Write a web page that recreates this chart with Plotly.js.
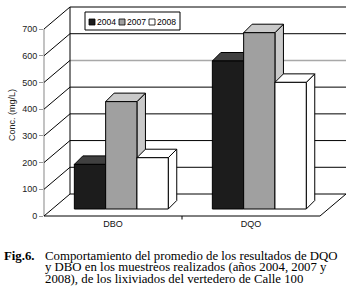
<!DOCTYPE html>
<html><head><meta charset="utf-8">
<script src="https://cdn.plot.ly/plotly-3.0.1.min.js"></script>
<style>html,body{margin:0;padding:0;background:#fff}#chart{width:353px;height:293px}</style>
</head><body><div id="chart"></div>
<script>
// ---- data ----
const categories = ['DBO', 'DQO'];
const seriesNames = ['2004', '2007', '2008'];
const values2004 = [167, 554];
const values2007 = [402, 660];
const values2008 = [192, 474];
const yTickValues = [0, 100, 200, 300, 400, 500, 600, 700];
const yTitle = 'Conc. (mg/L)';
const captionLabel = 'Fig.6.';
const captionLines = [
  'Comportamiento del promedio de los resultados de DQO',
  'y DBO en los muestreos realizados (años 2004, 2007 y',
  '2008), de los lixiviados del vertedero de Calle 100'
];

// ---- styles / geometry ----
const seriesValues = [values2004, values2007, values2008];
const frontColors = ['#1c1c1c', '#a0a0a0', '#ffffff'];
const topColors = ['#404040', '#c9c9c9', '#ffffff'];
const sideColors = ['#303030', '#c9c9c9', '#ffffff'];
const W = 353, H = 293;
const M = {l: 44, r: 6, t: 6, b: 76};
const PXU = 138;            // px per category unit
const PYU = 187 / 700;      // px per value unit
const WDX = 26 / PXU, WDY = 22 / PYU;       // wall depth
const BDX0 = 8.3 / PXU, BDY0 = 7 / PYU;     // bar plane offset
const BDX = 8.5 / PXU, BDY = 8.5 / PYU;     // bar depth
const BW = 31.3 / PXU;                      // bar width
const xmin = -0.5, xmax = categories.length - 0.5 + WDX + 1 / PXU;
const ymin = -1 / PYU, ymax = yTickValues[yTickValues.length - 1] + WDY + 1 / PYU;
const plotW = W - M.l - M.r, plotH = H - M.t - M.b;
const PX = p => (p - M.l) / plotW;
const PY = p => (H - M.b - p) / plotH;
const vmax = yTickValues[yTickValues.length - 1];
const x0 = -0.5, x1 = categories.length - 0.5;

const shapes = [];
const line = (xa, ya, xb, yb, color, width, extra) => Object.assign({
  type: 'line', xref: 'x', yref: 'y', x0: xa, y0: ya, x1: xb, y1: yb,
  line: {color: color, width: width}, layer: 'below'}, extra || {});

yTickValues.forEach(v => {
  shapes.push(line(x0, v, x0 + WDX, v + WDY, '#000', 1));
  const gray = v === 500;
  shapes.push(line(x0 + WDX, v + WDY, x1 + WDX, v + WDY, gray ? '#a8a8a8' : '#000', gray ? 1.6 : 1));
});
shapes.push(line(x0 + WDX, WDY, x0 + WDX, vmax + WDY, '#000', 1));
shapes.push(line(x0, 0, x1, 0, '#000', 1));
shapes.push(line(x1, 0, x1 + WDX, WDY, '#000', 1));
shapes.push({type: 'line', xref: 'paper', yref: 'y', x0: 0, x1: 0, y0: 0, y1: vmax,
  line: {color: '#9a9a9a', width: 1.2}, layer: 'below'});
for (let i = 1; i < categories.length; i++) {
  shapes.push({type: 'line', xref: 'x', yref: 'paper', x0: i - 0.5, x1: i - 0.5,
    y0: PY(216), y1: PY(219.5), line: {color: '#000', width: 1}});
}

// ---- bars ----
const traces = [];
const poly = (pts, fill) => ({
  type: 'scatter', mode: 'lines', fill: 'toself', fillcolor: fill,
  x: pts.map(p => p[0]).concat([pts[0][0]]),
  y: pts.map(p => p[1]).concat([pts[0][1]]),
  line: {color: '#000', width: 1}, hoverinfo: 'skip', showlegend: false
});
categories.forEach((c, i) => {
  seriesValues.forEach((vals, j) => {
    const L = i + BDX0 - 1.5 * BW + j * BW, R = L + BW;
    const B = BDY0, T = BDY0 + vals[i];
    traces.push(poly([[R, B], [R + BDX, B + BDY], [R + BDX, T + BDY], [R, T]], sideColors[j]));
    traces.push(poly([[L, T], [R, T], [R + BDX, T + BDY], [L + BDX, T + BDY]], topColors[j]));
    traces.push(poly([[L, B], [R, B], [R, T], [L, T]], frontColors[j]));
  });
});

// ---- legend (box + squares + names) ----
const font = "'Liberation Sans', Arial, sans-serif";
const annotations = [];
shapes.push({type: 'rect', xref: 'paper', yref: 'paper', x0: PX(85), x1: PX(180),
  y0: PY(12), y1: PY(30), line: {color: '#000', width: 1}, fillcolor: '#fff', layer: 'above'});
seriesNames.forEach((n, k) => {
  const sx = 89 + k * 30;
  shapes.push({type: 'rect', xref: 'paper', yref: 'paper', x0: PX(sx), x1: PX(sx + 6),
    y0: PY(19), y1: PY(25), line: {color: '#000', width: 0.8}, fillcolor: frontColors[k], layer: 'above'});
  annotations.push({xref: 'paper', yref: 'paper', x: PX(sx + 7), y: PY(22.3), xanchor: 'left', yanchor: 'middle',
    text: n, showarrow: false, borderpad: 0, font: {family: font, size: 8.6, color: '#000'}});
});

annotations.push({xref: 'paper', yref: 'paper', x: PX(12), y: PY(115), textangle: -90,
  xanchor: 'center', yanchor: 'middle', text: yTitle, showarrow: false,
  font: {family: font, size: 9, color: '#222'}});

const serif = "'Liberation Serif', 'Times New Roman', serif";
annotations.push({xref: 'paper', yref: 'paper', x: PX(3), y: PY(256), xanchor: 'left', yanchor: 'middle',
  text: '<b>' + captionLabel + '</b>', showarrow: false, borderpad: 0,
  font: {family: serif, size: 12.8, color: '#000'}});
captionLines.forEach((t, k) => {
  annotations.push({xref: 'paper', yref: 'paper', x: PX(44), y: PY(256 + k * 11.3), xanchor: 'left', yanchor: 'middle',
    text: t, showarrow: false, borderpad: 0, font: {family: serif, size: 12.8, color: '#000'}});
});

const layout = {
  width: W, height: H, margin: M, showlegend: false,
  paper_bgcolor: '#fff', plot_bgcolor: '#fff',
  xaxis: {range: [xmin, xmax], showgrid: false, zeroline: false, showline: false,
    tickmode: 'array', tickvals: categories.map((c, i) => i), ticktext: categories,
    ticks: '', tickfont: {family: font, size: 9, color: '#111'}, fixedrange: true},
  yaxis: {range: [ymin, ymax], showgrid: false, zeroline: false, showline: false,
    tickmode: 'array', tickvals: yTickValues, ticks: 'outside', ticklen: 4, tickcolor: '#9a9a9a',
    tickfont: {family: font, size: 9, color: '#222'}, fixedrange: true},
  shapes: shapes, annotations: annotations
};
Plotly.newPlot('chart', traces, layout, {displayModeBar: false, staticPlot: true});
</script></body></html>
